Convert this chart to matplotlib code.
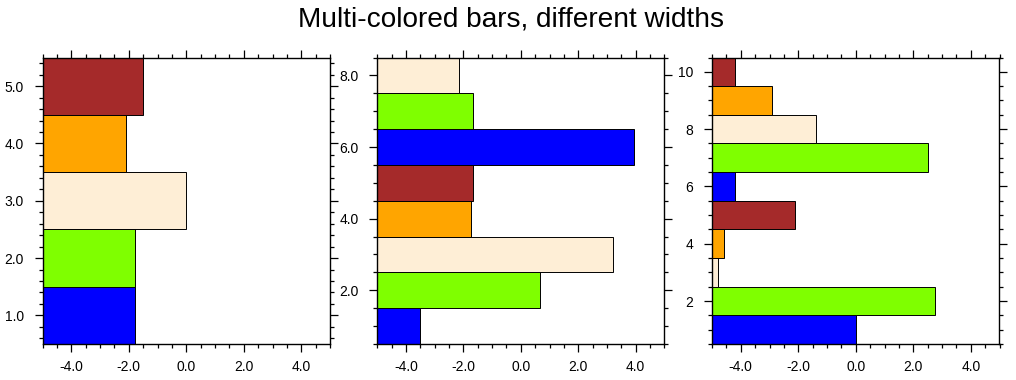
import matplotlib
matplotlib.use("Agg")
import matplotlib.pyplot as plt
from matplotlib.ticker import MultipleLocator, FormatStrFormatter

# data
colors = ['#0000FF', '#7FFF00', '#FEEED6', '#FFA500', '#A52A2A']
y1 = [1, 2, 3, 4, 5]
v1 = [-1.8, -1.8, 0.0, -2.1, -1.5]
y2 = [1, 2, 3, 4, 5, 6, 7, 8]
v2 = [-3.5, 0.68, 3.2, -1.75, -1.65, 3.95, -1.65, -2.15]
y3 = [1, 2, 3, 4, 5, 6, 7, 8, 9, 10]
v3 = [0.0, 2.75, -4.8, -4.6, -2.1, -4.2, 2.5, -1.4, -2.9, -4.2]
xmin, xmax = -5, 5

plt.rcParams['font.family'] = 'Liberation Sans'

fig = plt.figure(figsize=(10.16, 3.8), dpi=100)
W, H = 1016, 380
boxes = [(42.5, 57.5, 287.5, 286.5), (377.3, 57.5, 287.0, 286.5), (712.0, 57.5, 287.5, 286.5)]
panels = [(y1, v1, 0.2, '%.1f'), (y2, v2, 0.5, '%.1f'), (y3, v3, 0.5, '%d')]

for (x0, y0, w, h), (yy, vv, ymin_step, fmt) in zip(boxes, panels):
    ax = fig.add_axes([x0 / W, 1 - (y0 + h) / H, w / W, h / H])
    cols = [colors[i % len(colors)] for i in range(len(yy))]
    ax.barh(yy, [v - xmin for v in vv], left=xmin, height=1.0, color=cols,
            edgecolor='black', linewidth=0.7)
    ax.set_xlim(xmin, xmax)
    ax.set_ylim(yy[0] - 0.5, yy[-1] + 0.5)
    ax.xaxis.set_major_locator(MultipleLocator(2))
    ax.xaxis.set_minor_locator(MultipleLocator(0.5))
    ax.xaxis.set_major_formatter(FormatStrFormatter('%.1f'))
    ymaj = 1 if len(yy) <= 5 else 2
    ax.yaxis.set_major_locator(MultipleLocator(ymaj))
    ax.yaxis.set_minor_locator(MultipleLocator(ymin_step))
    ax.yaxis.set_major_formatter(FormatStrFormatter(fmt))
    ax.tick_params(which='both', direction='out', top=True, right=True,
                   labelsize=10, width=0.9)
    ax.tick_params(which='major', length=5.5)
    ax.tick_params(which='minor', length=3)
    ax.tick_params(axis='x', pad=6)
    ax.tick_params(axis='y', pad=8)
    for s in ax.spines.values():
        s.set_linewidth(1.0)

fig.text(511 / W, 1 - 20 / H, 'Multi-colored bars, different widths',
         ha='center', va='center', fontsize=20.2)

fig.savefig('out.png', dpi=100)
